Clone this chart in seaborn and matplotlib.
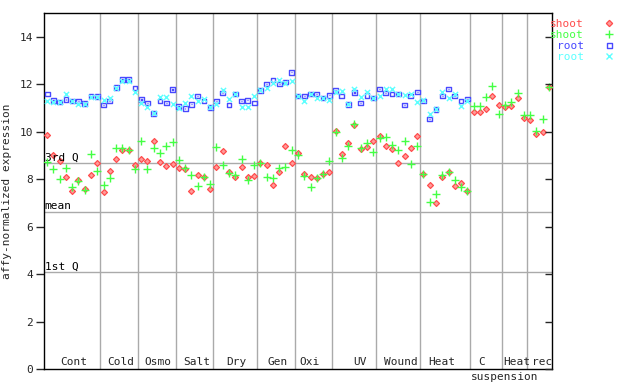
import numpy as np
import pandas as pd
import matplotlib
matplotlib.use("Agg")
import matplotlib.pyplot as plt
from matplotlib.path import Path
from matplotlib.lines import Line2D
import seaborn as sns

# ---------------- data ----------------
groups = ["Cont", "Cold", "Osmo", "Salt", "Dry", "Gen", "Oxi", "UV", "Wound",
          "Heat", "C", "Heat", "rec"]
group_sizes = [9, 6, 6, 6, 7, 6, 6, 7, 7, 8, 5, 4, 4]
group_label_pos = [4.2, 11.8, 17.6, 23.8, 30.2, 36.8, 41.9, 49.9, 56.4,
                   63.0, 69.2, 74.8, 79.0]
extra_label = "suspension"
extra_label_pos = 73.0

shoot1 = [9.87, 9.00, 8.77, 8.10, 7.51, 7.97, 7.59, 8.18, 8.67,
          7.45, 8.35, 8.86, 9.21, 9.21, 8.60,
          8.86, 8.77, 9.62, 8.72, 8.56, 8.63,
          8.46, 8.42, 7.51, 8.17, 8.08, 7.60,
          8.50, 9.19, 8.30, 8.08, 8.50, 8.08, 8.13,
          8.67, 8.59, 7.75, 8.30, 9.40, 8.67,
          9.10, 8.21, 8.08, 8.04, 8.21, 8.31,
          10.04, 9.05, 9.53, 10.26, 9.27, 9.34, 9.60,
          9.80, 9.40, 9.27, 8.67, 8.97, 9.31, 9.81,
          8.21, 7.76, 7.00, 8.08, 8.30, 7.72, 7.83, 7.51,
          10.81, 10.83, 10.95, 11.51, 11.13,
          11.04, 11.08, 11.42, 10.56,
          10.49, 9.90, 9.98, 11.88]
shoot2 = [8.72, 8.43, 8.01, 8.46, 7.68, 7.94, 7.55, 9.05, 8.35,
          7.75, 8.04, 9.31, 9.31, 9.21, 8.42,
          9.62, 8.42, 9.31, 9.10, 9.40, 9.57,
          8.81, 8.46, 8.17, 7.71, 8.08, 7.79,
          9.35, 8.59, 8.25, 8.17, 8.84, 7.96, 8.59,
          8.67, 8.08, 8.04, 8.46, 8.50, 9.24,
          9.01, 8.14, 7.66, 8.04, 8.21, 8.76,
          9.98, 8.89, 9.39, 10.33, 9.31, 9.52, 9.14,
          9.73, 9.77, 9.43, 9.24, 9.60, 8.63, 9.39,
          8.21, 7.03, 7.38, 8.18, 8.30, 7.97, 7.66, 7.51,
          11.08, 11.08, 11.46, 11.92, 10.75,
          11.12, 11.25, 11.63, 10.71,
          10.71, 10.04, 10.53, 11.90]
root1 = [11.59, 11.32, 11.25, 11.35, 11.29, 11.29, 11.18, 11.50, 11.47,
         11.12, 11.29, 11.86, 12.19, 12.19, 11.84,
         11.35, 11.21, 10.78, 11.29, 11.21, 11.77,
         11.06, 10.99, 11.16, 11.50, 11.29, 11.02,
         11.29, 11.63, 11.12, 11.59, 11.29, 11.33, 11.21,
         11.75, 12.01, 12.18, 12.01, 12.09, 12.51,
         11.50, 11.50, 11.59, 11.59, 11.42, 11.54,
         11.75, 11.50, 11.16, 11.65, 11.21, 11.54, 11.42,
         11.80, 11.63, 11.59, 11.59, 11.12, 11.50, 11.67,
         11.29, 10.53, 10.94, 11.50, 11.80, 11.50, 11.29, 11.38]
root2 = [11.28, 11.24, 11.25, 11.57, 11.29, 11.15, 11.18, 11.47, 11.47,
         11.32, 11.43, 11.86, 12.12, 12.12, 11.68,
         11.21, 11.02, 10.78, 11.48, 11.48, 11.18,
         11.00, 11.21, 11.50, 11.30, 11.36, 11.02,
         11.16, 11.77, 11.39, 11.59, 11.06, 11.06, 11.51,
         11.75, 11.86, 12.05, 12.18, 12.05, 12.13,
         11.50, 11.29, 11.59, 11.40, 11.42, 11.32,
         11.67, 11.72, 11.16, 11.78, 11.46, 11.67, 11.42,
         11.51, 11.80, 11.80, 11.59, 11.54, 11.59, 11.25,
         11.32, 10.75, 10.94, 11.67, 11.42, 11.59, 11.08, 11.30]

quartiles = {"3rd Q": 8.68, "mean": 6.62, "1st Q": 4.08}
series_labels = ["shoot", "shoot", "root", "root"]
yticks = [0, 2, 4, 6, 8, 10, 12, 14]

# ---------------- style ----------------
sns.set_style("white")
plt.rcParams["font.family"] = ["DejaVu Sans Mono"]
FS = 8
RED, GREEN, BLUE, CYAN = "#ff4c4c", "#44ff44", "#4848ff", "#5cffff"
GRID = "#aaaaaa"

sq = Path([(-1, -1), (1, -1), (1, 1), (-1, 1), (-1, -1),
           (-0.15, -0.15), (0.15, -0.15), (0.15, 0.15), (-0.15, 0.15), (-0.15, -0.15)],
          [Path.MOVETO, Path.LINETO, Path.LINETO, Path.LINETO, Path.CLOSEPOLY,
           Path.MOVETO, Path.LINETO, Path.LINETO, Path.LINETO, Path.CLOSEPOLY])

fig = plt.figure(figsize=(6.4, 3.84), dpi=100)
ax = fig.add_axes([44 / 640, 15 / 384, 508 / 640, 356 / 384])

n = len(shoot1)
df_s = pd.DataFrame({"x": np.arange(n), "s1": shoot1, "s2": shoot2})
df_r = pd.DataFrame({"x": np.arange(len(root1)), "r1": root1, "r2": root2})

sns.scatterplot(data=df_s, x="x", y="s1", marker="D", s=9, color="#ff9a9a",
                edgecolor=RED, linewidth=0.9, ax=ax, zorder=3)
sns.scatterplot(data=df_s, x="x", y="s2", marker="+", s=28, color=GREEN,
                linewidth=1.0, ax=ax, zorder=4)
sns.scatterplot(data=df_r, x="x", y="r1", marker=sq, s=12, facecolor="none",
                edgecolor=BLUE, linewidth=1.0, ax=ax, zorder=5)
sns.scatterplot(data=df_r, x="x", y="r2", marker="x", s=14, color=CYAN,
                linewidth=1.0, ax=ax, zorder=6)

ax.set_xlim(-0.5, n - 0.5)
ax.set_ylim(0, 15)

# group separators
b = -0.5
for gs in group_sizes[:-1]:
    b += gs
    ax.axvline(b, color=GRID, lw=1, zorder=1)

# quartile lines
for lab, v in quartiles.items():
    ax.axhline(v, color=GRID, lw=1, zorder=1)
    ax.text(-0.4, v + 0.02, lab, fontsize=FS, va="bottom", ha="left", color="black")

# group labels
for lab, xp in zip(groups, group_label_pos):
    ax.text(xp, 0.08, lab, fontsize=FS, ha="center", va="bottom")
ax.text(extra_label_pos, -0.12, extra_label, fontsize=FS, ha="center", va="top",
        clip_on=False)

ax.set_yticks(yticks)
ax.set_yticklabels([str(t) for t in yticks], fontsize=FS)
ax.set_xticks([])
ax.tick_params(axis="y", left=True, direction="out", length=6, width=1, pad=2)
ax.set_xlabel("")
ax.set_ylabel("affy-normalized expression", fontsize=FS)
ax.yaxis.set_label_coords(-32 / 508, 0.5)
for sp in ax.spines.values():
    sp.set_color("black")
    sp.set_linewidth(1)

ax2 = ax.twinx()
ax2.set_ylim(0, 15)
ax2.set_yticks(yticks)
ax2.set_yticklabels([])
ax2.tick_params(axis="y", right=True, direction="in", length=5, width=1)
for sp in ax2.spines.values():
    sp.set_visible(False)

handles = [
    Line2D([], [], ls="none", marker="D", ms=3.2, mfc="#ff9a9a", mec=RED, mew=0.9),
    Line2D([], [], ls="none", marker="+", ms=5.5, mec=GREEN, mew=1.0),
    Line2D([], [], ls="none", marker=sq, ms=3.6, mfc="none", mec=BLUE, mew=1.0),
    Line2D([], [], ls="none", marker="x", ms=3.8, mec=CYAN, mew=1.0),
]
leg = ax2.legend(handles, series_labels, loc="upper right",
                 bbox_to_anchor=(615 / 640, 1 - 19 / 384),
                 bbox_transform=fig.transFigure, frameon=False, markerfirst=False,
                 fontsize=FS, labelcolor=[RED, GREEN, BLUE, CYAN],
                 handlelength=1.0, handletextpad=1.8, labelspacing=0.1,
                 borderpad=0, borderaxespad=0)

fig.savefig("out.png", dpi=100)
